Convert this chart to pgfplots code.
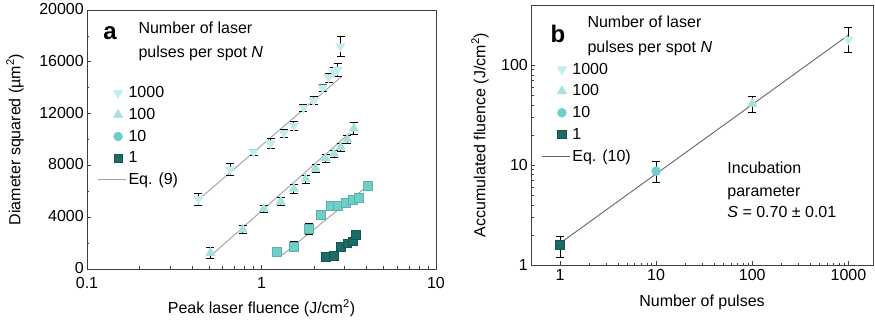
\documentclass[border=0pt]{standalone}
\usepackage{fontspec}
\setmainfont{Liberation Sans}
\usepackage{pgfplots}
\usepackage{pgfplotstable}
\pgfplotsset{compat=1.18}
\definecolor{cA}{HTML}{C6EDEE}
\definecolor{cB}{HTML}{A6E1DC}
\definecolor{cC}{HTML}{6FCFC8}
\definecolor{cD}{HTML}{1C6B66}
\definecolor{lineg}{HTML}{A0A0A0}
\newcommand\ff{\fontsize{16}{19}\selectfont}
\pgfplotstableread{
x y e
0.435 5400 480
0.66 7700 450
0.90 9030 250
1.13 9700 400
1.34 10500 300
1.53 11050 350
1.74 12450 250
1.99 13000 300
2.24 14000 300
2.43 14800 350
2.60 15200 350
2.73 15400 500
2.84 17200 800
}\tA
\pgfplotstableread{
x y e
0.51 1250 400
0.78 3050 300
1.03 4650 250
1.29 5200 300
1.53 6200 350
1.79 6950 300
2.04 7750 300
2.33 8550 300
2.60 8900 300
2.84 9400 300
3.10 10000 300
3.38 10850 450
}\tB
\pgfplotstableread{
x y e
1.23 1350 300
1.53 1750 400
1.87 3100 400
2.18 4200 250
2.49 4850 200
2.73 4900 250
3.04 5100 250
3.33 5350 250
3.60 5500 250
4.05 6450 250
}\tC
\pgfplotstableread{
x y e
2.33 950 100
2.60 1050 120
2.84 1700 150
3.10 2000 150
3.33 2150 150
3.46 2650 200
}\tD
\tikzset{panel/.style={font=\bfseries\fontsize{24}{26}\selectfont, anchor=base}}
\pgfplotsset{
  common/.style={
    scale only axis, anchor=south west,
    tick align=inside, xtick pos=bottom, ytick pos=left,
    /pgf/number format/assume math mode=true,
    tick label style={font=\ff, inner sep=1pt}, label style={font=\ff},
    axis line style={draw=black!75, line width=0.8pt},
    major tick length=4pt, minor tick length=2.5pt,
    every tick/.style={black!75, line width=0.6pt},
    legend cell align=left,
    legend style={draw=none, fill=none, font=\ff, inner sep=0pt, row sep=5pt, anchor=north west},
    legend image code/.code={\draw[#1] plot coordinates {(20pt,0pt)};},
    error bars/error bar style={draw=black, line width=0.6pt},
    error bars/error mark options={rotate=90, mark size=4pt, draw=black, line width=0.6pt},
  },
  ebars/.style={forget plot, no marks, draw=none, error bars/.cd, y dir=both, y explicit},
  s1000/.style={only marks, mark=triangle*, mark size=5.5pt, mark options={rotate=180, fill=cA, draw=cA}},
  s100/.style={only marks, mark=triangle*, mark size=5.5pt, mark options={fill=cB, draw=cB}},
  s10/.style={only marks, mark=*, mark size=4.5pt, mark options={fill=cC, draw=cC}},
  s10sq/.style={only marks, mark=square*, mark size=4.5pt, mark options={fill=cC, draw=cC!85!black}},
  s1/.style={only marks, mark=square*, mark size=4.3pt, mark options={fill=cD, draw=cD!80!black}},
  eqline/.style={no marks, lineg, line width=0.9pt},
  eqleg/.style={legend image code/.code={\draw[##1] (0pt,0pt) -- (28pt,0pt);}},
}
\begin{document}
\begin{tikzpicture}
\path[use as bounding box] (0,0) rectangle (875pt,326pt);
% Panel a
\begin{axis}[common, at={(87pt,57pt)}, width=349pt, height=259pt,
  xmode=log, xmin=0.1, xmax=10, log ticks with fixed point,
  xtick={0.1,1,10}, xticklabels={0.1,1,10},
  xticklabel style={yshift=-7pt},
  ymin=0, ymax=20000, ytick={0,4000,...,20000}, minor ytick={2000,6000,...,18000},
  scaled y ticks=false, yticklabel style={/pgf/number format/1000 sep={}, xshift=-2pt, yshift=1pt},
  xlabel={Peak laser fluence (J/cm\textsuperscript{2})},
  ylabel={Diameter squared (µm\textsuperscript{2})},
  xlabel style={at={(axis description cs:0.5,-0.151)}, anchor=center},
  ylabel style={at={(axis description cs:-0.206,0.5)}, anchor=center},
  legend style={at={(axis description cs:0.03,0.712)}}]
\addplot[s1000] table[x=x,y=y] {\tA};
\addlegendentry{1000}
\addplot[s100] table[x=x,y=y] {\tB};
\addlegendentry{100}
\addplot[s10sq, legend image code/.code={\draw[fill=cC, draw=cC] (20pt,0pt) circle (4.5pt);}] table[x=x,y=y] {\tC};
\addlegendentry{10}
\addplot[s1] table[x=x,y=y] {\tD};
\addlegendentry{1}
\addplot[eqline, eqleg] coordinates {(0.44,5400) (2.9,14900)};
\addlegendentry{Eq. (9)}
\addplot[eqline, forget plot] coordinates {(0.51,1000) (3.2,10500)};
\addplot[eqline, forget plot] coordinates {(1.28,950) (4.0,6350)};
\addplot[ebars] table[x=x,y=y,y error=e] {\tA};
\addplot[ebars] table[x=x,y=y,y error=e] {\tB};
\addplot[ebars] table[x=x,y=y,y error=e] {\tC};
\addplot[ebars] table[x=x,y=y,y error=e] {\tD};
\node[panel] at (axis description cs:0.066,0.888) {a};
\node[font=\ff, anchor=base west] at (axis description cs:0.1375,0.911) {Number of laser};
\node[font=\ff, anchor=base west] at (axis description cs:0.1375,0.815) {pulses per spot \textit{N}};
\end{axis}
% Panel b
\begin{axis}[common, at={(531pt,61pt)}, width=342pt, height=260pt,
  xmode=log, ymode=log, xmin=0.5, xmax=1800, ymin=1, ymax=400,
  log ticks with fixed point,
  xtick={1,10,100,1000}, xticklabels={1,10,100,1000},
  ytick={1,10,100}, yticklabels={1,10,100},
  xticklabel style={yshift=-3pt}, yticklabel style={xshift=-2pt},
  xlabel={Number of pulses},
  ylabel={Accumulated fluence (J/cm\textsuperscript{2})},
  xlabel style={at={(axis description cs:0.5,-0.142)}, anchor=center},
  ylabel style={at={(axis description cs:-0.149,0.5)}, anchor=center},
  legend style={at={(axis description cs:0.03,0.785)}}]
\addplot[s1000] coordinates {(1000,180)};
\addlegendentry{1000}
\addplot[s100] coordinates {(100,41)};
\addlegendentry{100}
\addplot[s10] coordinates {(10,8.7)};
\addlegendentry{10}
\addplot[s1] coordinates {(1,1.6)};
\addlegendentry{1}
\addplot[eqline, draw=black!60, eqleg] coordinates {(1,1.65) (1000,200)};
\addlegendentry{Eq. (10)}
\addplot[ebars] coordinates {(1000,180) += (0,60) -= (0,45)};
\addplot[ebars] coordinates {(100,41) += (0,8) -= (0,7)};
\addplot[ebars] coordinates {(10,8.7) += (0,2.1) -= (0,2.0)};
\addplot[ebars] coordinates {(1,1.6) += (0,0.35) -= (0,0.4)};
\node[panel] at (axis description cs:0.079,0.854) {b};
\node[font=\ff, anchor=base west] at (axis description cs:0.155,0.915) {Number of laser};
\node[font=\ff, anchor=base west] at (axis description cs:0.155,0.819) {pulses per spot \textit{N}};
\node[font=\ff, anchor=base west] at (axis description cs:0.564,0.35) {Incubation};
\node[font=\ff, anchor=base west] at (axis description cs:0.564,0.262) {parameter};
\node[font=\ff, anchor=base west] at (axis description cs:0.564,0.181) {\textit{S} = 0.70 ± 0.01};
\end{axis}
\end{tikzpicture}
\end{document}
